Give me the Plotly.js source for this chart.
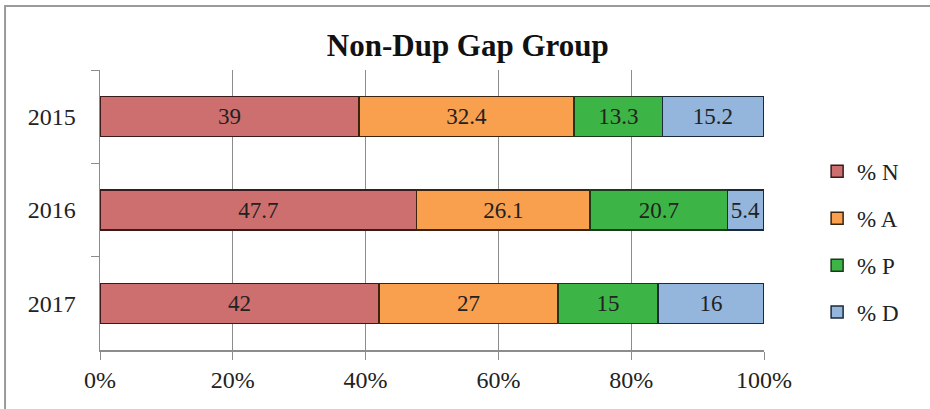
<!DOCTYPE html>
<html>
<head>
<meta charset="utf-8">
<script src="https://cdn.plot.ly/plotly-3.0.1.min.js"></script>
<style>html,body{margin:0;padding:0;background:#fff;}#chart{width:930px;height:409px;}</style>
</head>
<body>
<div id="chart"></div>
<script>
const years = ['2015', '2016', '2017'];
const seriesNames = ['% N', '% A', '% P', '% D'];
const pctN = [39, 47.7, 42];
const pctA = [32.4, 26.1, 27];
const pctP = [13.3, 20.7, 15];
const pctD = [15.2, 5.4, 16];
const xTickVals = [0, 20, 40, 60, 80, 100];
const xTickText = ['0%', '20%', '40%', '60%', '80%', '100%'];

const colors = ['#cd6f6e', '#f9a04f', '#3db446', '#94b5dc'];
const lineColors = ['#3a1a1a', '#3a2410', '#1a3a1a', '#1a2a3a'];
const values = [pctN, pctA, pctP, pctD];
const font = 'Liberation Serif, Times New Roman, serif';

const traces = values.map((v, i) => ({
  type: 'bar',
  orientation: 'h',
  name: seriesNames[i],
  legendgroup: 'g' + i,
  y: years,
  x: v,
  text: v.map(String),
  textposition: 'inside',
  insidetextanchor: 'middle',
  textangle: 0,
  constraintext: 'none',
  textfont: {family: font, size: 23, color: '#222'},
  marker: {color: colors[i], line: {color: lineColors[i], width: 1.5}},
  hoverinfo: 'x+name'
}));

const layout = {
  width: 930, height: 409,
  margin: {l: 100, r: 166, t: 70, b: 59},
  barmode: 'stack',
  bargap: 0.57,
  paper_bgcolor: '#fff',
  plot_bgcolor: '#fff',
  font: {family: font, size: 24, color: '#222'},
  title: {text: '<b>Non-Dup Gap Group</b>', font: {family: font, size: 31, color: '#111'}, x: 0.503, xanchor: 'center', xref: 'container', y: 0.89, yanchor: 'middle'},
  xaxis: {
    range: [0, 100], tickvals: xTickVals, ticktext: xTickText,
    showgrid: true, gridcolor: '#8c8c8c', gridwidth: 1,
    showline: true, linecolor: '#8c8c8c', linewidth: 1.5,
    ticks: 'outside', ticklen: 8, tickcolor: '#8c8c8c',
    zeroline: false, fixedrange: true,
    tickfont: {family: font, size: 24, color: '#222'}
  },
  yaxis: {
    autorange: 'reversed', type: 'category',
    showline: true, linecolor: '#8c8c8c', linewidth: 1.5,
    ticks: 'outside', ticklen: 8, tickcolor: '#8c8c8c', tickson: 'boundaries',
    showgrid: false, ticksuffix: '   ',
    tickfont: {family: font, size: 24, color: '#222'}
  },
  legend: {
    x: 1.08, xanchor: 'left', y: 0.386, yanchor: 'middle',
    traceorder: 'grouped',
    font: {family: font, size: 23, color: '#222'},
    tracegroupgap: 14, itemwidth: 30,
    bgcolor: 'rgba(0,0,0,0)'
  },
  shapes: [{
    type: 'rect', xref: 'paper', yref: 'paper',
    x0: -0.143, x1: 1.26, y0: -0.24, y1: 1.2286,
    line: {color: '#9a9a9a', width: 2}, fillcolor: 'rgba(0,0,0,0)', layer: 'below'
  }],
  showlegend: true
};

Plotly.newPlot('chart', traces, layout, {displayModeBar: false, staticPlot: true});
</script>
</body>
</html>
